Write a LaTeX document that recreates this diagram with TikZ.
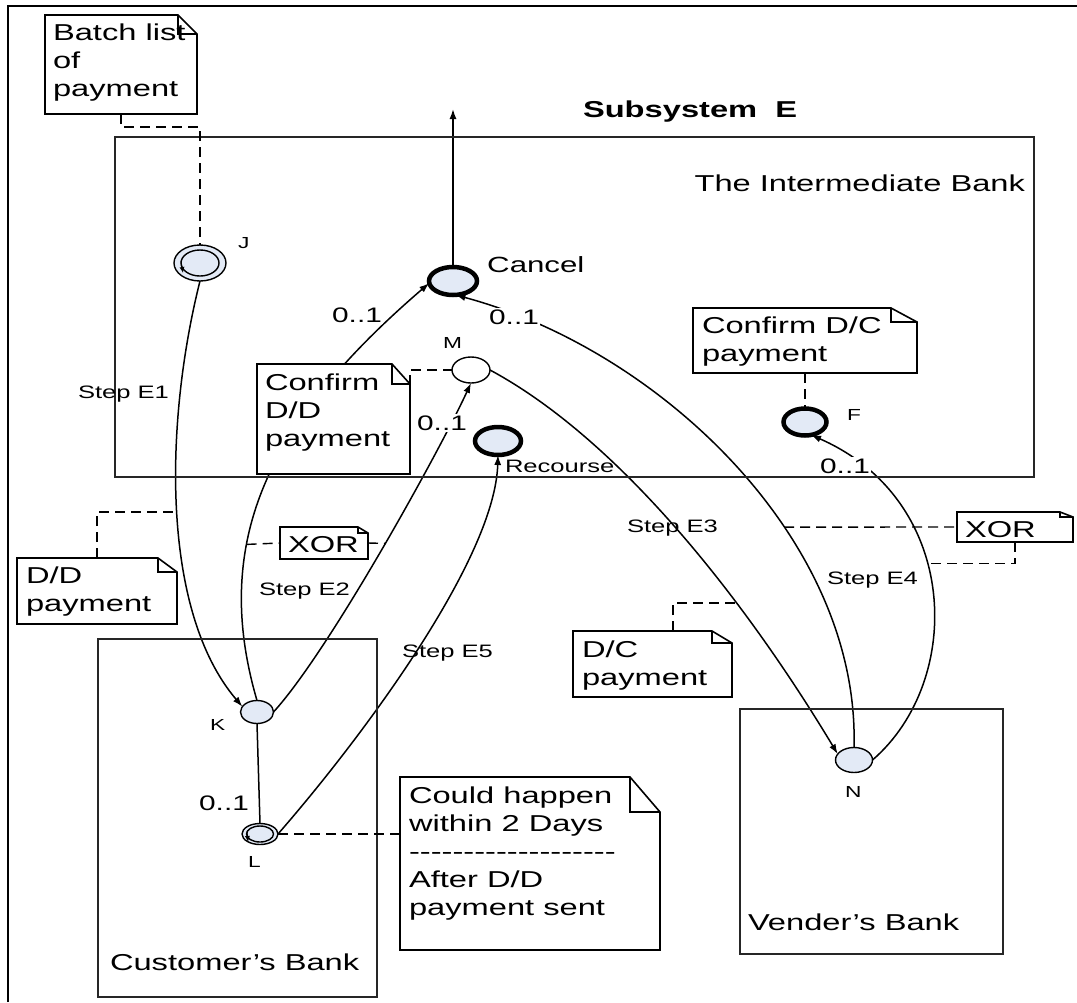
\documentclass[tikz,border=0pt]{standalone}
\usepackage{fontspec}
\setmainfont{Liberation Sans}
\usepackage{graphicx}
\usetikzlibrary{shapes.geometric,arrows.meta,calc}

\definecolor{stblue}{RGB}{227,234,246}
\pgfdeclarelayer{wires}
\pgfsetlayers{wires,main}
% horizontally widened lettering
\newcommand{\sx}[1]{\scalebox{1.42}[1]{#1}}
\newcommand{\hy}{\hbox{-}}
% outline of a note with a folded corner: node name, fold width, fold height
\newcommand{\dogear}[3]{%
  \draw[noteline] (#1.south west) -- (#1.north west) -- ($(#1.north east)+(-#2,0)$)
     -- ($(#1.north east)+(0,#3)$) -- (#1.south east) -- cycle;
  \draw[noteline] ($(#1.north east)+(-#2,0)$) -- ($(#1.north east)+(-#2,#3)$)
     -- ($(#1.north east)+(0,#3)$);
}

\begin{document}
\begin{tikzpicture}[x=1pt,y=-1pt,
  box/.style={line width=1.8pt,draw=black!85},
  conn/.style={line width=1.5pt,-{Latex[length=10pt,width=7pt]}},
  plainline/.style={line width=1.5pt},
  dashline/.style={line width=1.4pt,dash pattern=on 10pt off 6pt},
  stnode/.style={ellipse,draw,line width=1.4pt,fill=stblue,inner sep=0pt,outer sep=0pt},
  boldst/.style={stnode,line width=4.5pt},
  notebg/.style={rectangle,fill=white,inner sep=0pt,outer sep=0pt},
  noteline/.style={line width=1.6pt,line join=miter},
  bigtxt/.style={inner sep=0pt,outer sep=0pt,font=\fontsize{23}{28}\selectfont},
  steplbl/.style={inner sep=0pt,outer sep=0pt,font=\fontsize{18}{21}\selectfont},
  stlbl/.style={inner sep=0pt,outer sep=0pt,font=\fontsize{16}{19}\selectfont},
  mult/.style={fill=white,inner sep=1.5pt,font=\fontsize{21}{25}\selectfont},
]
\useasboundingbox (0,0) rectangle (1077,1002);

% page frame
\draw[line width=2.5pt] (8,1002) -- (8,6) -- (1077,6);

% swimlane boxes
\draw[box] (115,137) rectangle (1034,477);
\draw[box] (98,639) rectangle (377,997);
\draw[box] (740,709) rectangle (1003,954);

% states
\node[stnode,minimum width=52pt,minimum height=36pt] (J) at (200,263) {};
\node[stnode,minimum width=38pt,minimum height=26pt] (Ji) at (J) {};
\node[boldst,minimum width=48pt,minimum height=28pt] (Cancel) at (453,281) {};
\node[stnode,fill=white,minimum width=38pt,minimum height=26pt] (M) at (471,370) {};
\node[boldst,minimum width=46pt,minimum height=28pt] (Recourse) at (498,441) {};
\node[boldst,minimum width=43pt,minimum height=27pt] (F) at (805,422) {};
\node[stnode,minimum width=33pt,minimum height=23pt] (K) at (257,712) {};
\node[stnode,minimum width=36pt,minimum height=21pt] (L) at (260,834) {};
\node[stnode,minimum width=27pt,minimum height=16pt] (Li) at (L) {};
\node[stnode,minimum width=37pt,minimum height=25pt] (N) at (854,760) {};
\coordinate (cout) at (453,109);
% small arrow marks inside the double circles
\draw[-{Latex[length=6pt,width=5pt]},line width=0.9pt] ($(J)+(-19,-2)$) -- ($(J)+(-17,10)$);
\draw[-{Latex[length=6pt,width=5pt]},line width=0.9pt] ($(L)+(-13,-3)$) -- ($(L)+(-12,8)$);

% transitions, kept beneath states and notes
\begin{pgfonlayer}{wires}
\draw[conn] (Cancel.north) -- (cout);
\draw[conn] (J.south) .. controls (165,420) and (160,610) .. coordinate[pos=0.505] (jk) (K.160);
\draw[conn] (K.north) .. controls (210,540) and (270,420) .. coordinate[pos=0.35] (kc) (Cancel.185);
\draw[conn] (K.east) .. controls (330,650) and (440,450) .. coordinate[pos=0.515] (km) (M.south);
\draw[plainline] (K.south) -- (L.north);
\draw[conn] (L.east) .. controls (360,740) and (495,560) .. (Recourse.south);
\draw[conn] (M.east) .. controls (620,440) and (745,600) .. coordinate[pos=0.67] (mn) (N.160);
\draw[conn] (N.north) .. controls (860,540) and (660,350) .. coordinate[pos=0.376] (nc) (Cancel.-80);
\draw[conn] (N.east) .. controls (965,680) and (960,500) .. coordinate[pos=0.575] (nf) (F.-65);
\end{pgfonlayer}

% notes
\node[notebg,minimum width=152pt,minimum height=99pt] (bn) at (121,64.5) {};
\dogear{bn}{19}{19}
\node[notebg,minimum width=153pt,minimum height=110pt] (cdd) at (333.5,419) {};
\dogear{cdd}{18}{20}
\node[notebg,minimum width=224pt,minimum height=65pt] (cdc) at (805,340.5) {};
\dogear{cdc}{26}{14}
\node[notebg,minimum width=160pt,minimum height=66pt] (ddn) at (97,591) {};
\dogear{ddn}{19}{14}
\node[notebg,minimum width=159pt,minimum height=66pt] (dcn) at (652.5,664) {};
\dogear{dcn}{20}{12}
\node[notebg,minimum width=88pt,minimum height=32pt] (xorl) at (324,543) {};
\dogear{xorl}{10}{6}
\node[notebg,minimum width=116pt,minimum height=30pt] (xorr) at (1015,527) {};
\dogear{xorr}{13}{5}
\node[notebg,minimum width=260pt,minimum height=173pt] (cn) at (530,863.5) {};
\dogear{cn}{30}{35}

% note texts
\node[bigtxt,anchor=north west] (bnt) at (53,21) {\sx{\begin{tabular}{@{}l@{}}Batch list\\of\\payment\end{tabular}}};
\node[bigtxt,anchor=north west] (cddt) at (265,370.4) {\sx{\begin{tabular}{@{}l@{}}Confirm\\D/D\\payment\end{tabular}}};
\node[bigtxt,anchor=north west] (cdct) at (702,313.4) {\sx{\begin{tabular}{@{}l@{}}Confirm D/C\\payment\end{tabular}}};
\node[bigtxt,anchor=north west] (ddnt) at (26,563.4) {\sx{\begin{tabular}{@{}l@{}}D/D\\payment\end{tabular}}};
\node[bigtxt,anchor=north west] (dcnt) at (582,637.4) {\sx{\begin{tabular}{@{}l@{}}D/C\\payment\end{tabular}}};
\node[bigtxt,anchor=base west] (xorlt) at (288,552) {\sx{XOR}};
\node[bigtxt,anchor=base west] (xorrt) at (965,537) {\sx{XOR}};
\node[bigtxt,anchor=north west] (cnt) at (409,783.4) {\sx{\begin{tabular}{@{}l@{}}Could happen\\within 2 Days\\
  \hy\hy\hy\hy\hy\hy\hy\hy\hy\hy\hy\hy\hy\hy\hy\hy\hy\hy\hy\\After D/D\\payment sent\end{tabular}}};

% dashed note links
\draw[dashline] (bn.south) -- ++(0,13) -| (J.north);
\draw[dashline] ($(cdd.north east)+(0,21)$) |- (M.west);
\draw[dashline] (cdc.south) -- (F.north);
\draw[dashline] (ddn.north) |- (jk);
\draw[dashline] (kc) -- (xorl.west);
\draw[dashline] (xorl.east) -- (km);
\draw[dashline] (nc) -- (xorr.west);
\draw[dashline] (xorr.south) |- (nf);
\draw[dashline] ($(dcn.north west)+(100,0)$) |- (mn);
\draw[dashline] (L.east) -- (L.east -| cn.west);

% multiplicities
\node[mult,anchor=base] (m1) at (357,322) {\sx{0..1}};
\node[mult,anchor=base] (m2) at (514,324) {\sx{0..1}};
\node[mult,anchor=base] (m3) at (442,430) {\sx{0..1}};
\node[mult,anchor=base] (m4) at (845,473) {\sx{0..1}};
\node[mult,fill=none,anchor=base] (m5) at (224,810) {\sx{0..1}};

% state names
\node[stlbl,anchor=base west] (lJ) at (238,248) {\sx{J}};
\node[stlbl,anchor=base west] (lM) at (443,348) {\sx{M}};
\node[stlbl,anchor=base west] (lF) at (847,420) {\sx{F}};
\node[stlbl,anchor=base west] (lK) at (210,730) {\sx{K}};
\node[stlbl,anchor=base west] (lL) at (248,867) {\sx{L}};
\node[stlbl,anchor=base west] (lN) at (845,797) {\sx{N}};
\node[inner sep=0pt,font=\fontsize{22}{26}\selectfont,anchor=base west] (lC) at (487,272) {\sx{Cancel}};
\node[steplbl,anchor=base west] (lR) at (505,472) {\sx{Recourse}};

% step labels
\node[steplbl,anchor=base west] (s1) at (78,398) {\sx{Step E1}};
\node[steplbl,anchor=base west] (s2) at (259,595) {\sx{Step E2}};
\node[steplbl,anchor=base west] (s3) at (627,532) {\sx{Step E3}};
\node[steplbl,anchor=base west] (s4) at (827,584) {\sx{Step E4}};
\node[steplbl,anchor=base west] (s5) at (402,657) {\sx{Step E5}};

% titles
\node[bigtxt,font=\fontsize{23}{28}\selectfont\bfseries,anchor=base west] (title) at (583,117) {\sx{Subsystem\ \ E}};
\node[bigtxt,anchor=base east] (ibank) at (1025,191) {\sx{The Intermediate Bank}};
\node[bigtxt,anchor=base west] (cbank) at (110,970) {\sx{Customer’s Bank}};
\node[bigtxt,anchor=base west] (vbank) at (748,930) {\sx{Vender’s Bank}};
\end{tikzpicture}
\end{document}
